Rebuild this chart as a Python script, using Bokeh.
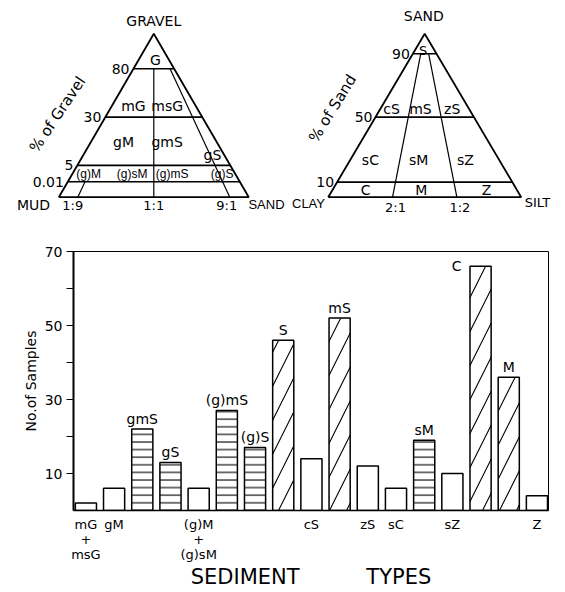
from bokeh.plotting import figure
from bokeh.models import Range1d, FixedTicker, ColumnDataSource
from bokeh.layouts import column
from bokeh.embed import file_html
from bokeh.resources import INLINE
from bokeh.core.properties import value

FONT = "DejaVu Sans"
NARROW = "Liberation Sans"

# ---------------- bar chart data ----------------
categories = ["mG+msG", "gM", "gmS", "gS", "(g)M+(g)sM", "(g)mS", "(g)S", "S",
              "cS", "mS", "zS", "sC", "sM", "sZ", "C", "M", "Z"]
samples = [2, 6, 22, 13, 6, 27, 17, 46, 14, 52, 12, 6, 19, 10, 66, 36, 4]
shading = ["open", "open", "horiz", "horiz", "open", "horiz", "horiz", "diag",
           "open", "diag", "open", "open", "horiz", "open", "diag", "diag", "open"]
short_names = ["mG\n+\nmsG", "gM", "gmS", "gS", "(g)M\n+\n(g)sM", "(g)mS", "(g)S", "S",
               "cS", "mS", "zS", "sC", "sM", "sZ", "C", "M", "Z"]
y_ticks = [10, 20, 30, 40, 50, 60, 70]
y_tick_labels = ["10", "", "30", "", "50", "", "70"]
x_title = ["SEDIMENT", "TYPES"]

# ---------------- ternary diagram data ----------------
gravel_levels = ["80", "30", "5", "0.01"]
gravel_ratios = ["1:9", "1:1", "9:1"]          # sand : mud
gravel_classes = [["G"], ["mG", "msG"], ["gM", "gmS"], ["(g)M", "(g)sM", "(g)mS", "(g)S"]]
sand_levels = ["90", "50", "10"]
sand_ratios = ["2:1", "1:2"]                   # clay : silt
sand_classes = [["S"], ["cS", "mS", "zS"], ["sC", "sM", "sZ"], ["C", "M", "Z"]]

# schematic (non-linear) drawing heights of the level lines
GRAVEL_H = [0.786, 0.49, 0.195, 0.095]
SAND_H = [0.878, 0.49, 0.092]

PAGE_H = 592
TOP_H = 232

# ---------------- top figure: two ternary diagrams ----------------
top = figure(width=565, height=TOP_H, x_range=Range1d(0, 565), y_range=Range1d(TOP_H, 0),
             output_backend="svg", toolbar_location=None, x_axis_type=None, y_axis_type=None,
             min_border=0, outline_line_color=None, frame_align=False)
top.xgrid.visible = False
top.ygrid.visible = False


def make_tri(ox, base, W, H):
    def f(r, h):
        return ox + W * (h * 0.5 + (1 - h) * r), base - H * h
    return f


def seg(f, p0, p1, lw=1.6):
    x0, y0 = f(*p0)
    x1, y1 = f(*p1)
    top.line([x0, x1], [y0, y1], line_color="black", line_width=lw)


def txt(x, y, t, size="14px", align="center", baseline="middle", angle=0, font=FONT):
    top.text([x], [y], text=[t], text_font=value(font), text_font_size=size,
             text_align=align, text_baseline=baseline, angle=angle, text_color="black")


# ---- gravel-mud-sand triangle
gt = make_tri(58.3, 196.7, 190, 163.4)
corners = [(0, 0), (0, 1), (1, 0), (0, 0)]
top.line([gt(*c)[0] for c in corners], [gt(*c)[1] for c in corners],
         line_color="black", line_width=1.8)
for lab, h in zip(gravel_levels, GRAVEL_H):
    seg(gt, (0, h), (1, h))
    x, y = gt(0, h)
    txt(x - 4, y, lab, align="right")
g_ratio_r = [int(a) / (int(a) + int(b)) for a, b in (s.split(":") for s in gravel_ratios)]
g_ratio_top = [GRAVEL_H[3], GRAVEL_H[0], GRAVEL_H[0]]
for lab, r, ht in zip(gravel_ratios, g_ratio_r, g_ratio_top):
    seg(gt, (r, 0), (r, ht), lw=1.2)
    x, y = gt(r, 0)
    txt(x - 5 if r < 0.3 else (x - 3 if r > 0.7 else x), y + 8, lab, size="13px")
txt(153.3, 20, "GRAVEL", size="14px")
txt(33, 204, "MUD", size="14px")
txt(266, 204, "SAND", size="13px", font=NARROW)
txt(57, 114, "% of Gravel", size="15px", angle=0.98)
g_band_h = [0.84, 0.56, 0.337, 0.143]
g_band_r = [[0.55], [0.256, 0.66], [0.26, 0.606], [0.10, 0.367, 0.613, 0.92]]
for names, h, rs in zip(gravel_classes, g_band_h, g_band_r):
    for n, r in zip(names, rs):
        x, y = gt(r, h)
        if n.startswith("("):
            txt(x, y, n, size="12px", font=NARROW)
        else:
            txt(x, y, n, size="14px")
x, y = gt(0.917, 0.259)
txt(x, y, "gS", size="14px")

# ---- sand-clay-silt triangle
st = make_tri(327.7, 196.7, 193, 163.4)
top.line([st(*c)[0] for c in corners], [st(*c)[1] for c in corners],
         line_color="black", line_width=1.8)
for lab, h in zip(sand_levels, SAND_H):
    seg(st, (0, h), (1, h))
    x, y = st(0, h)
    txt(x - 3, y, lab, align="right")
s_ratio_r = [int(b) / (int(a) + int(b)) for a, b in (s.split(":") for s in sand_ratios)]
for lab, r in zip(sand_ratios, s_ratio_r):
    seg(st, (r, 0), (r, SAND_H[0]), lw=1.2)
    x, y = st(r, 0)
    txt(x + 3, y + 10, lab, size="13px")
txt(423.3, 15, "SAND", size="14px")
txt(308, 203, "CLAY", size="13px", font=NARROW)
txt(537, 202, "SILT", size="13px")
txt(332, 108, "% of Sand", size="15px", angle=1.02)
s_band_h = [0.898, 0.541, 0.225, 0.045]
s_band_r = [[0.42], [0.125, 0.452, 0.81], [0.137, 0.46, 0.772], [0.179, 0.482, 0.835]]
for names, h, rs in zip(sand_classes, s_band_h, s_band_r):
    for n, r in zip(names, rs):
        x, y = st(r, h)
        txt(x, y, n, size="13px" if h > 0.8 else "14px")

# ---------------- bottom figure: bar chart ----------------
xi = list(range(len(categories)))
hatch_map = {"open": " ", "horiz": "-", "diag": "/"}
scale_map = {"open": 12, "horiz": 7.6, "diag": 34}
src = ColumnDataSource(dict(x=xi, top=samples, name=categories,
                            hatch=[hatch_map[s] for s in shading],
                            hscale=[scale_map[s] for s in shading]))

BAR_H = PAGE_H - TOP_H
p = figure(width=565, height=BAR_H, x_range=Range1d(-0.44, 16.41), y_range=Range1d(0, 70),
           output_backend="svg", toolbar_location=None, frame_align=False,
           min_border_left=73, min_border_right=17, min_border_top=251 - TOP_H,
           min_border_bottom=PAGE_H - 510)
p.xgrid.visible = False
p.ygrid.visible = False
p.outline_line_color = "black"
p.outline_line_width = 1

p.vbar(x="x", top="top", width=0.75, source=src, fill_color="white",
       line_color="black", line_width=1.5, hatch_pattern="hatch", hatch_scale="hscale",
       hatch_color="black", hatch_weight=1.1)

# labels above the shaded bars
above_x, above_y, above_t = [], [], []
for i, (n, v, s) in enumerate(zip(short_names, samples, shading)):
    if s != "open" and n != "C":
        above_x.append(i)
        above_y.append(v + 0.7)
        above_t.append(n)
p.text(above_x, above_y, text=above_t, text_font=value(FONT), text_font_size="14px",
       text_align="center", text_baseline="bottom", text_color="black")
ci = categories.index("C")
p.text([ci - 0.85], [samples[ci]], text=["C"], text_font=value(FONT), text_font_size="14px",
       text_align="center", text_baseline="middle", text_color="black")

# labels under the open bars via the x axis
under = {i: n for i, (n, s) in enumerate(zip(short_names, shading)) if s == "open"}
p.xaxis.ticker = FixedTicker(ticks=list(under.keys()))
p.xaxis.major_label_overrides = under
p.xaxis.major_label_text_font = FONT
p.xaxis.major_label_text_font_size = "13px"
p.xaxis.major_label_text_color = "black"
p.xaxis.major_label_text_line_height = 1.0
p.xaxis.major_label_standoff = 6
p.xaxis.major_tick_out = 0
p.xaxis.major_tick_in = 0
p.xaxis.major_tick_line_color = None
p.xaxis.minor_tick_line_color = None
p.xaxis.axis_line_color = "black"
p.xaxis.axis_line_width = 1.5
p.xaxis.axis_label = x_title[0] + "\u00a0" * 10 + x_title[1]
p.xaxis.axis_label_text_font = FONT
p.xaxis.axis_label_text_font_size = "21px"
p.xaxis.axis_label_text_color = "black"
p.xaxis.axis_label_text_font_style = "normal"
p.xaxis.axis_label_standoff = 0

p.yaxis.ticker = FixedTicker(ticks=y_ticks)
p.yaxis.major_label_overrides = dict(zip(y_ticks, y_tick_labels))
p.yaxis.major_label_text_font = FONT
p.yaxis.major_label_text_font_size = "14px"
p.yaxis.major_label_text_color = "black"
p.yaxis.major_label_standoff = 4
p.yaxis.major_tick_out = 7
p.yaxis.major_tick_in = 0
p.yaxis.minor_tick_line_color = None
p.yaxis.axis_line_width = 2
p.yaxis.axis_label = "No.of Samples"
p.yaxis.axis_label_text_font = FONT
p.yaxis.axis_label_text_font_size = "14px"
p.yaxis.axis_label_text_color = "black"
p.yaxis.axis_label_text_font_style = "normal"
p.yaxis.axis_label_standoff = 3

layout = column(top, p)
open("out.html", "w").write(file_html(layout, INLINE))
